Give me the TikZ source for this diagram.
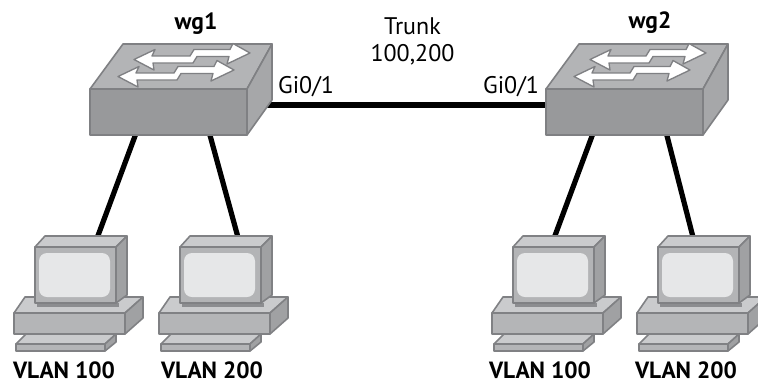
\documentclass[tikz,border=0pt]{standalone}
\usepackage{fontspec}
\setmainfont{PT Sans}
\definecolor{swT}{HTML}{B3B4B6}
\definecolor{swF}{HTML}{98999B}
\definecolor{swR}{HTML}{A6A7A9}
\definecolor{swO}{HTML}{7F8083}
\definecolor{pcT}{HTML}{CACBCD}
\definecolor{pcF}{HTML}{B4B5B7}
\definecolor{pcR}{HTML}{A0A1A3}
\definecolor{pcM}{HTML}{B3B4B6}
\definecolor{pcS}{HTML}{E6E7E8}
\definecolor{pcO}{HTML}{808184}
\definecolor{pcD}{HTML}{8C8D90}
\begin{document}
\begin{tikzpicture}[x=0.75pt,y=-0.75pt,
  face/.style={draw=#1,line width=1.2pt,line join=round},
  swface/.style={face=swO},
  pcface/.style={face=pcO},
  arrowshape/.style={fill=white,draw=swO,line width=1pt,line join=round},
  link/.style={line width=3.9pt,black},
  lbl/.style={font=\fontsize{18}{20}\selectfont,inner sep=0pt,anchor=base},
  blbl/.style={lbl,font=\fontsize{17.6}{20}\selectfont\bfseries},
  pics/switch/.style={code={
    \path[swface,fill=swT] (0,0)--(157,0)--(182,-45)--(33,-45)--cycle;
    \path[swface,fill=swR] (157,0)--(182,-45)--(182,11)--(157,46)--cycle;
    \path[swface,fill=swF] (0,0) rectangle (157,46);
    \foreach \dx/\dy in {0/0,-16/17}{
      \path[arrowshape,shift={(\dx,\dy)}] (44,-29.5)--(65,-39.5)--(62,-33)--(100,-33)--(104,-39.5)--(140,-39.5)
        --(143,-45.5)--(160,-36)--(137,-25)--(139,-32.5)--(107,-32.5)--(103,-26)--(63,-26)--(64,-19)--cycle;
    }
  }},
  pics/pc/.style={code={
    \path[pcface,fill=pcT] (-21,66)--(90,66)--(108,50)--(-10,50)--cycle;
    \path[pcface,fill=pcR] (90,66)--(108,50)--(108,71)--(90,87)--cycle;
    \path[pcface,fill=pcF] (-21,66) rectangle (90,87);
    \path[pcface,fill=pcT] (-19,97)--(70,97)--(81,87)--(-9,87)--cycle;
    \path[pcface,fill=pcR] (70,97)--(81,87)--(81,95)--(70,104)--cycle;
    \path[pcface,fill=pcF] (-19,97) rectangle (70,104);
    \fill[pcD] (2,56) rectangle (84,59.5);
    \path[pcface,fill=pcT] (0,0)--(81,0)--(92,-11)--(10,-11)--cycle;
    \path[pcface,fill=pcR] (81,0)--(92,-11)--(92,48)--(81,56)--cycle;
    \path[pcface,fill=pcM] (0,0) rectangle (81,56);
    \fill[pcS,rounded corners=6pt] (4,6) rectangle (75,50);
  }}
]
\useasboundingbox (0,0) rectangle (758,383);

% anchor coordinates for connectors
\coordinate (wg1-a) at (138,128);
\coordinate (wg1-b) at (208,128);
\coordinate (wg1-t) at (262,105);
\coordinate (wg2-t) at (550,105);
\coordinate (wg2-a) at (595,128);
\coordinate (wg2-b) at (665,128);
\coordinate (pc1-t) at (96,241);
\coordinate (pc2-t) at (239,241);
\coordinate (pc3-t) at (553,241);
\coordinate (pc4-t) at (694,241);

% connectors
\draw[link] (wg1-a) -- (pc1-t);
\draw[link] (wg1-b) -- (pc2-t);
\draw[link] (wg2-a) -- (pc3-t);
\draw[link] (wg2-b) -- (pc4-t);
\draw[link] (wg1-t) -- (wg2-t);

% devices
\pic (wg1) at (90,89) {switch};
\pic (wg2) at (546,89) {switch};
\pic (pc1) at (35,247) {pc};
\pic (pc2) at (180,247) {pc};
\pic (pc3) at (513,247) {pc};
\pic (pc4) at (658,247) {pc};

% labels
\node[blbl] (l-wg1) at (196,29) {wg1};
\node[blbl] (l-wg2) at (650,28) {wg2};
\node[lbl] (l-trunk) at (412.5,34) {Trunk};
\node[lbl] (l-vl) at (412.5,61) {100,200};
\node[lbl] (l-gi1) at (306,93) {Gi0/1};
\node[lbl] (l-gi2) at (511,93) {Gi0/1};
\node[blbl] (l-pc1) at (64,378) {VLAN 100};
\node[blbl] (l-pc2) at (212,378) {VLAN 200};
\node[blbl] (l-pc3) at (540,378) {VLAN 100};
\node[blbl] (l-pc4) at (686,378) {VLAN 200};
\end{tikzpicture}
\end{document}
